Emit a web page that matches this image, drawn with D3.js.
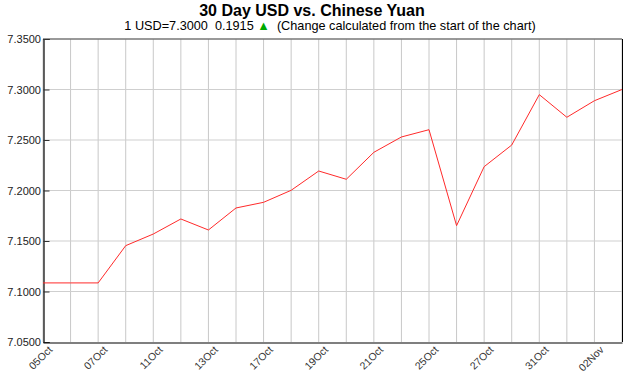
<!DOCTYPE html>
<html>
<head>
<meta charset="utf-8">
<script src="https://cdn.jsdelivr.net/npm/d3@7"></script>
<style>
  body { margin: 0; background: #fff; }
  text { font-family: "Liberation Sans", Arial, sans-serif; white-space: pre; }
</style>
</head>
<body>
<svg id="chart" width="633" height="374"></svg>
<script>
const width = 633
const height = 374
const margin = { top: 39, right: 11, bottom: 32, left: 43 }

// business days, 05 Oct - 03 Nov
const dates = ["05Oct", "06Oct", "07Oct", "10Oct", "11Oct", "12Oct", "13Oct", "14Oct",
  "17Oct", "18Oct", "19Oct", "20Oct", "21Oct", "24Oct", "25Oct", "26Oct",
  "27Oct", "28Oct", "31Oct", "01Nov", "02Nov", "03Nov"]
const rates = [7.1085, 7.1085, 7.1085, 7.1454, 7.1569, 7.1718, 7.1609, 7.1827,
  7.1883, 7.2002, 7.2193, 7.2111, 7.2378, 7.2530, 7.2602, 7.1652,
  7.2236, 7.2450, 7.2949, 7.2725, 7.2889, 7.3000]
const xLabels = ["05Oct", "07Oct", "11Oct", "13Oct", "17Oct", "19Oct", "21Oct", "25Oct", "27Oct", "31Oct", "02Nov"]
const yTicks = [7.05, 7.10, 7.15, 7.20, 7.25, 7.30, 7.35]

const svg = d3.select("#chart")

const x = d3.scalePoint()
  .domain(dates)
  .range([margin.left, width - margin.right])

const y = d3.scaleLinear()
  .domain([7.05, 7.35])
  .range([height - margin.bottom, margin.top])

// title
svg.append("text")
  .attr("x", 312).attr("y", 16)
  .attr("text-anchor", "middle")
  .attr("font-size", 16).attr("font-weight", "bold")
  .text("30 Day USD vs. Chinese Yuan")

const sub = svg.append("text")
  .attr("x", 330).attr("y", 30)
  .attr("text-anchor", "middle")
  .attr("font-size", 12.7)
sub.append("tspan").text("1 USD=7.3000  0.1915 ")
sub.append("tspan").attr("fill", "#0a0").text("\u25B2")
sub.append("tspan").text("  (Change calculated from the start of the chart)")

// grid
svg.append("g")
  .selectAll("line")
  .data(dates)
  .join("line")
  .attr("x1", d => x(d)).attr("x2", d => x(d))
  .attr("y1", margin.top).attr("y2", height - margin.bottom)
  .attr("stroke", "#c8c8c8")

svg.append("g")
  .selectAll("line")
  .data(yTicks.slice(1, -1))
  .join("line")
  .attr("x1", margin.left).attr("x2", width - margin.right)
  .attr("y1", d => y(d)).attr("y2", d => y(d))
  .attr("stroke", "#cfcfcf")

// frame
svg.append("line")
  .attr("x1", margin.left).attr("x2", width - margin.right)
  .attr("y1", margin.top).attr("y2", margin.top)
  .attr("stroke", "#777").attr("stroke-width", 1.5)
svg.append("line")
  .attr("x1", width - margin.right + 0.5).attr("x2", width - margin.right + 0.5)
  .attr("y1", margin.top).attr("y2", height - margin.bottom)
  .attr("stroke", "#000")

// y axis
const yAxis = svg.append("g")
  .attr("transform", `translate(${margin.left + 0.5},0)`)
  .call(d3.axisRight(y).tickValues(yTicks).tickSize(6).tickFormat(""))
yAxis.select(".domain").attr("stroke", "#000").attr("stroke-width", 1.2)
yAxis.selectAll(".tick line").attr("stroke", "#333")

svg.append("g")
  .selectAll("text")
  .data(yTicks)
  .join("text")
  .attr("x", margin.left - 2).attr("y", d => y(d) + 4)
  .attr("text-anchor", "end")
  .attr("font-size", 11).attr("fill", "#222")
  .text(d => d.toFixed(4))

// x axis
const xAxis = svg.append("g")
  .attr("transform", `translate(0,${height - margin.bottom + 0.5})`)
  .call(d3.axisBottom(x).tickValues(xLabels).tickSize(0).tickPadding(4))
xAxis.select(".domain").attr("stroke", "#000").attr("stroke-width", 1.2)
xAxis.selectAll(".tick text")
  .attr("font-family", "Liberation Sans, Arial, sans-serif")
  .attr("font-size", 10.5).attr("fill", "#333")
  .attr("text-anchor", "end")
  .attr("dx", "-0.1em").attr("dy", "0.6em")
  .attr("transform", "translate(3,0) rotate(-45)")

// line
svg.append("path")
  .datum(rates)
  .attr("fill", "none")
  .attr("stroke", "#ff2a2a")
  .attr("stroke-width", 1)
  .attr("d", d3.line().x((d, i) => x(dates[i])).y(d => y(d)))
</script>
</body>
</html>
